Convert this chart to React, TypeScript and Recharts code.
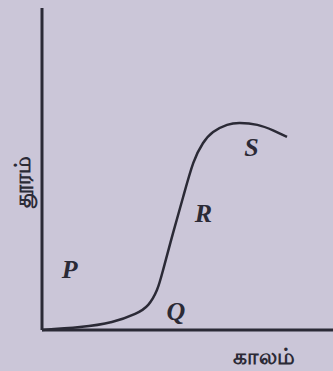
import { LineChart, Line, XAxis, YAxis, ReferenceDot } from "recharts";

// time (arbitrary units) vs distance
const time = [0, 13, 24, 32, 36.5, 39.5, 41.6, 45, 48.5, 52, 55.3, 58.8, 63.6, 68, 74, 79.4, 84.2];
const distance = [0, 0.9, 2.5, 5, 7.8, 12.4, 18.6, 30, 41.3, 51.9, 58, 61.5, 63.7, 64.3, 63.7, 62, 60];

const pointNames = ["P", "Q", "R", "S"];
const pointTime = [9.5, 46, 55.5, 72];
const pointDist = [19, 6, 36.5, 57];

const data = time.map((t, i) => ({ t, d: distance[i] }));

const ink = "#2b2a36";

export default function App() {
  return (
    <div
      style={{
        position: "absolute",
        left: 0,
        top: 0,
        width: 333,
        height: 371,
        background: "#cbc6d8",
      }}
    >
      <LineChart
        width={333}
        height={371}
        data={data}
        margin={{ top: 8, right: 0, bottom: 40, left: 41 }}
      >
        <XAxis
          dataKey="t"
          type="number"
          domain={[0, 100]}
          height={1}
          tick={false}
          tickLine={false}
          axisLine={{ stroke: ink, strokeWidth: 3 }}
          label={{
            value: "காலம்",
            position: "center",
            dx: 76,
            dy: 26,
            fill: ink,
            fontSize: 22,
            fontWeight: 700,
            fontFamily: "Noto Sans, sans-serif",
          }}
        />
        <YAxis
          type="number"
          domain={[0, 100]}
          width={1}
          tick={false}
          tickLine={false}
          axisLine={{ stroke: ink, strokeWidth: 3 }}
          label={{
            value: "தூரம்",
            angle: -90,
            position: "center",
            dx: -19,
            dy: 13,
            fill: ink,
            fontSize: 22,
            fontWeight: 700,
            fontFamily: "Noto Sans, sans-serif",
          }}
        />
        <Line
          type="natural"
          dataKey="d"
          stroke={ink}
          strokeWidth={2.5}
          dot={false}
          isAnimationActive={false}
        />
        {pointNames.map((name, i) => (
          <ReferenceDot
            key={name}
            x={pointTime[i]}
            y={pointDist[i]}
            r={0}
            label={{
              value: name,
              position: "center",
              fill: ink,
              fontSize: 26,
              fontStyle: "italic",
              fontWeight: 700,
              fontFamily: "Liberation Serif, serif",
            }}
          />
        ))}
      </LineChart>
    </div>
  );
}
